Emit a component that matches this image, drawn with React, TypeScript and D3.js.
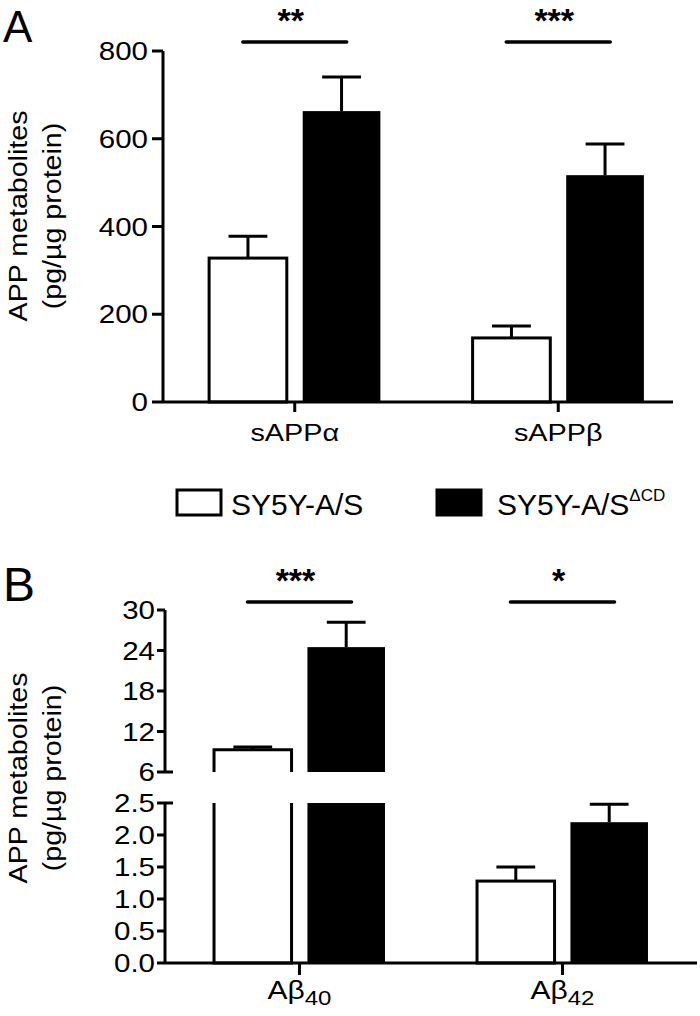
import * as d3 from "d3";

// panel A data (pg/µg protein)
const groupsA = ["sAPPα", "sAPPβ"];
const ctrlA = [328, 146];
const ctrlErrA = [50, 27];
const dcdA = [663, 517];
const dcdErrA = [78, 71];
const starsA = ["**", "***"];
const ticksA = [0, 200, 400, 600, 800];

// panel B data (broken axis)
const groupsB = ["Aβ40", "Aβ42"];
const subB = ["40", "42"];
const ctrlB = [9.3, 1.28];
const ctrlErrB = [0.4, 0.22];
const dcdB = [24.5, 2.2];
const dcdErrB = [3.7, 0.28];
const starsB = ["***", "*"];
const ticksBHigh = [6, 12, 18, 24, 30];
const ticksBLow = [0, 0.5, 1, 1.5, 2, 2.5];

const seriesNames = ["SY5Y-A/S", "SY5Y-A/S"];
const seriesSup = ["", "ΔCD"];

const FONT = "'Liberation Sans', Arial, Helvetica, sans-serif";
const SW = 3;

const TickLabel = ({ x, y, label }: { x: number; y: number; label: string }) => (
  <text transform={`translate(${x},${y + 9}) scale(1.18,1)`} textAnchor="end" fontSize={25}>
    {label}
  </text>
);

const YTitle = ({ x, y }: { x: number; y: number }) => (
  <g transform={`translate(${x},${y}) rotate(-90) scale(1.1,1)`} fontSize={26} textAnchor="middle">
    <text y={0}>APP metabolites</text>
    <text y={34}>(pg/µg protein)</text>
  </g>
);

const SigMark = ({ cx, y, stars }: { cx: number; y: number; stars: string }) => (
  <g>
    <line x1={cx - 52} x2={cx + 52} y1={y} y2={y} stroke="#000" strokeWidth={3.5} strokeLinecap="round" />
    <text x={cx - 4} y={y - 10} textAnchor="middle" fontSize={34} fontWeight="bold">
      {stars}
    </text>
  </g>
);

const ErrBar = ({ cx, y0, y1, w }: { cx: number; y0: number; y1: number; w: number }) => (
  <g stroke="#000" strokeWidth={SW}>
    <line x1={cx} x2={cx} y1={y0} y2={y1} />
    <line x1={cx - w / 4} x2={cx + w / 4} y1={y1} y2={y1} />
  </g>
);

function PanelA() {
  const y = d3.scaleLinear().domain([0, 800]).range([402, 51]);
  const x = d3.scaleBand().domain(groupsA).range([163, 690]).paddingInner(0.35).paddingOuter(0.175);
  const xs = d3.scaleBand().domain(["ctrl", "dcd"]).range([0, x.bandwidth()]).paddingInner(0.17);
  const bw = xs.bandwidth();
  const x0 = 163;
  return (
    <g>
      <text x={3} y={42} fontSize={44}>A</text>
      <YTitle x={27} y={216} />
      {groupsA.map((g, i) => {
        const gx = x(g)!;
        const cx = gx + x.bandwidth() / 2;
        const cxC = gx + xs("ctrl")!;
        const cxD = gx + xs("dcd")!;
        return (
          <g key={g}>
            <ErrBar cx={cxC + bw / 2} y0={y(ctrlA[i])} y1={y(ctrlA[i] + ctrlErrA[i])} w={bw} />
            <rect x={cxC} width={bw} y={y(ctrlA[i])} height={y(0) - y(ctrlA[i])} fill="#fff" stroke="#000" strokeWidth={SW} />
            <ErrBar cx={cxD + bw / 2} y0={y(dcdA[i])} y1={y(dcdA[i] + dcdErrA[i])} w={bw} />
            <rect x={cxD} width={bw} y={y(dcdA[i])} height={y(0) - y(dcdA[i])} fill="#000" />
            <SigMark cx={cx} y={42} stars={starsA[i]} />
            <line x1={cx} x2={cx} y1={y(0)} y2={y(0) + 10} stroke="#000" strokeWidth={SW} />
            <text transform={`translate(${cx},441) scale(1.2,1)`} textAnchor="middle" fontSize={24}>
              {g}
            </text>
          </g>
        );
      })}
      <g stroke="#000" strokeWidth={SW}>
        <line x1={x0} x2={x0} y1={y(800)} y2={y(0)} />
        <line x1={x0} x2={673} y1={y(0)} y2={y(0)} />
        {ticksA.map((t) => (
          <line key={t} x1={x0 - 11} x2={x0} y1={y(t)} y2={y(t)} />
        ))}
      </g>
      {ticksA.map((t) => (
        <TickLabel key={t} x={x0 - 15} y={y(t)} label={String(t)} />
      ))}
    </g>
  );
}

function PanelB() {
  const yLo = d3.scaleLinear().domain([0, 2.5]).range([963, 803]);
  const yHi = d3.scaleLinear().domain([6, 30]).range([772, 610]);
  const x = d3.scaleBand().domain(groupsB).range([168, 694]).paddingInner(0.35).paddingOuter(0.175);
  const xs = d3.scaleBand().domain(["ctrl", "dcd"]).range([0, x.bandwidth()]).paddingInner(0.17);
  const bw = xs.bandwidth();
  const x0 = 165;
  const top = (v: number) => (v > 2.5 ? yHi(v) : yLo(v));

  const bar = (left: number, v: number, err: number, fill: string) => {
    const cx = left + bw / 2;
    const eb = <ErrBar cx={cx} y0={top(v)} y1={top(v + err)} w={bw} />;
    if (v <= 2.5) {
      return (
        <g>
          {eb}
          <rect x={left} width={bw} y={yLo(v)} height={yLo(0) - yLo(v)} fill={fill} stroke={fill === "#000" ? "none" : "#000"} strokeWidth={SW} />
        </g>
      );
    }
    if (fill === "#000") {
      return (
        <g>
          {eb}
          <rect x={left} width={bw} y={yHi(v)} height={yHi(6) - yHi(v)} fill="#000" />
          <rect x={left} width={bw} y={yLo(2.5)} height={yLo(0) - yLo(2.5)} fill="#000" />
        </g>
      );
    }
    const r = left + bw;
    return (
      <g>
        {eb}
        <path d={`M${left},${yHi(6)}V${yHi(v)}H${r}V${yHi(6)}`} fill="#fff" stroke="#000" strokeWidth={SW} />
        <path d={`M${left},${yLo(2.5)}V${yLo(0)}H${r}V${yLo(2.5)}`} fill="#fff" stroke="#000" strokeWidth={SW} />
      </g>
    );
  };

  return (
    <g>
      <text x={3} y={601} fontSize={48}>B</text>
      <YTitle x={27} y={778} />
      {groupsB.map((g, i) => {
        const gx = x(g)!;
        const cx = gx + x.bandwidth() / 2;
        return (
          <g key={g}>
            {bar(gx + xs("ctrl")!, ctrlB[i], ctrlErrB[i], "#fff")}
            {bar(gx + xs("dcd")!, dcdB[i], dcdErrB[i], "#000")}
            <SigMark cx={cx} y={602} stars={starsB[i]} />
            <line x1={cx} x2={cx} y1={yLo(0)} y2={yLo(0) + 12} stroke="#000" strokeWidth={SW} />
            <text transform={`translate(${cx},999) scale(1.2,1)`} textAnchor="middle" fontSize={25}>
              {g.replace(subB[i], "")}
              <tspan dy={6} fontSize={20}>{subB[i]}</tspan>
            </text>
          </g>
        );
      })}
      <g stroke="#000" strokeWidth={SW}>
        <line x1={x0} x2={x0} y1={yHi(30)} y2={yHi(6)} />
        <line x1={x0} x2={x0} y1={yLo(2.5)} y2={yLo(0)} />
        <line x1={x0} x2={697} y1={yLo(0)} y2={yLo(0)} />
        {ticksBHigh.map((t) => (
          <line key={"h" + t} x1={x0 - 8} x2={t === 6 ? x0 + 8 : x0} y1={yHi(t)} y2={yHi(t)} />
        ))}
        {ticksBLow.map((t) => (
          <line key={"l" + t} x1={x0 - 8} x2={t === 2.5 ? x0 + 8 : x0} y1={yLo(t)} y2={yLo(t)} />
        ))}
      </g>
      {ticksBHigh.map((t) => (
        <TickLabel key={"h" + t} x={x0 - 10} y={yHi(t)} label={String(t)} />
      ))}
      {ticksBLow.map((t) => (
        <TickLabel key={"l" + t} x={x0 - 10} y={yLo(t)} label={d3.format(".1f")(t)} />
      ))}
    </g>
  );
}

function Legend() {
  const items = [
    { bx: 177, tx: 231, fill: "#fff" },
    { bx: 437, tx: 497, fill: "#000" },
  ];
  return (
    <g>
      {items.map((it, i) => (
        <g key={i}>
          <rect x={it.bx} y={490} width={44} height={25} fill={it.fill} stroke="#000" strokeWidth={SW} />
          <text x={it.tx} y={515} fontSize={30}>
            {seriesNames[i]}
            {seriesSup[i] && (
              <tspan dy={-14} fontSize={17}>
                {seriesSup[i]}
              </tspan>
            )}
          </text>
        </g>
      ))}
    </g>
  );
}

export default function App() {
  return (
    <svg
      width={700}
      height={1016}
      style={{ position: "absolute", left: 0, top: 0, background: "#fff" }}
      fontFamily={FONT}
      fill="#000"
    >
      <rect width={700} height={1016} fill="#fff" />
      <PanelA />
      <Legend />
      <PanelB />
    </svg>
  );
}
